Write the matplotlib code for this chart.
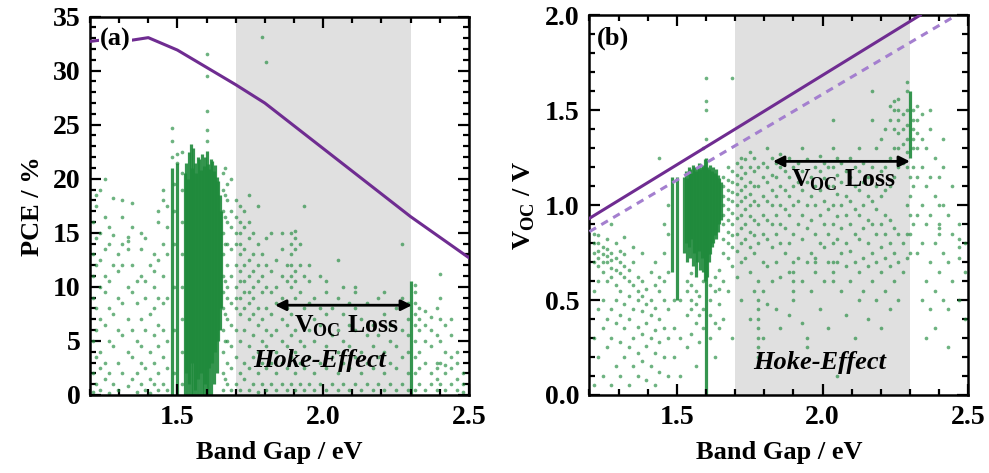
import numpy as np
import matplotlib
matplotlib.use("Agg")
import matplotlib.pyplot as plt

plt.rcParams["font.family"] = ["Liberation Serif", "DejaVu Serif"]
plt.rcParams["font.weight"] = "bold"
plt.rcParams["mathtext.fontset"] = "custom"
plt.rcParams["mathtext.rm"] = "Liberation Serif:bold"
plt.rcParams["mathtext.bf"] = "Liberation Serif:bold"

# ---------------- (a) PCE vs band gap ----------------
# scattered devices, grouped by reported band gap
pce_gap = [1.21, 1.22, 1.235, 1.25, 1.265, 1.28, 1.295, 1.31, 1.33, 1.345, 1.36, 1.375,
           1.39, 1.405, 1.42, 1.435, 1.45, 1.465, 1.48, 1.49, 1.50, 1.515, 1.60,
           1.655, 1.665, 1.67, 1.685, 1.70, 1.715, 1.73, 1.745, 1.76, 1.775, 1.79, 1.805,
           1.82, 1.84, 1.86, 1.875, 1.89, 1.905, 1.92, 1.935, 1.95, 1.97, 1.99,
           2.01, 2.03, 2.05, 2.07, 2.09, 2.11, 2.13, 2.15, 2.17, 2.19, 2.21, 2.23,
           2.25, 2.27, 2.29, 2.315, 2.33, 2.35, 2.37, 2.39, 2.40, 2.42, 2.44, 2.46, 2.48]
pce_vals = [
    [0.3, 2, 5, 9, 11, 13, 16],
    [1, 3.5, 6, 8, 12, 14.5, 17.5, 18.5],
    [0.5, 2.5, 4, 7, 10, 12.5, 15, 19],
    [1.5, 3, 6.5, 9.5, 11, 13.5, 16.5, 20],
    [0.2, 2, 5, 8, 10.5, 14, 15.5],
    [1, 4.5, 7.5, 12, 14.8, 18.2],
    [0.5, 3, 6, 9, 11.5, 13],
    [2, 5.5, 8.5, 12, 14, 16.5, 18],
    [0.8, 4, 7, 10, 13.5, 14.2, 14.6],
    [1.5, 3.5, 6, 9.5, 12, 15.5, 17.8],
    [0.3, 2, 5, 8.5, 10.5],
    [1, 3, 4.5, 7, 11, 13.5, 15],
    [0.5, 2.5, 6, 9, 10.5, 14.5],
    [0.2, 1.5, 4, 7.5, 12],
    [1, 3, 5.5, 8, 10, 11.5, 13],
    [0.5, 2, 4.5, 6.5, 9, 12.5, 16, 17],
    [1, 3.5, 6, 8.5, 11, 14, 18, 19],
    [0.5, 2.5, 5, 9, 13, 15.5, 17.5],
    [22, 23.5, 24.7],
    [2, 6, 10, 14, 17, 19.5],
    [21.5, 22.3],
    [1, 4, 7, 10, 13, 16, 19, 20.5, 22.5],
    [23.5, 24.5, 26.3, 29.5, 31.5],
    [0.5, 2, 4, 6, 8, 9.5, 11, 13, 15, 17, 19, 20.5],
    [1.5, 5, 7.5, 10.5, 14, 16.5, 18.5, 21],
    [1, 3, 5, 7, 9, 10, 12, 14, 16, 18, 19.5],
    [0.5, 2.5, 4.5, 6.5, 8.5, 11, 13.5, 15.5, 17, 20],
    [1, 3.5, 6, 8, 9, 10, 12, 14, 15, 16.5, 18],
    [0.5, 2, 5, 7.5, 9, 10.5, 11.5, 13, 14, 15, 16, 17.5],
    [1.5, 3, 6, 8, 9.5, 10.5, 12, 13.5, 15.5, 17],
    [0.5, 2.5, 4.5, 7, 8.5, 9.5, 11, 12.5, 14.5, 16, 18.5],
    [1, 3.5, 5.5, 7.5, 9, 10, 11.5, 13, 15],
    [0.3, 2, 4, 6.5, 8, 10.5, 12, 14, 17.5],
    [1, 3, 5, 7, 9.5, 11, 13, 33.1],
    [0.5, 2.5, 4.5, 6, 8, 10, 12, 14.5, 30.8],
    [1, 3, 5.5, 7.5, 9.5, 11.5, 15],
    [0.5, 2, 4, 6, 8.5, 10, 12.5],
    [1, 3, 5, 7, 9, 11, 13.5, 15],
    [0.5, 2.5, 4.5, 6.5, 8, 10.5, 12],
    [1, 3.5, 5.5, 7.5, 10, 11, 12, 13, 14, 15],
    [0.5, 2, 4, 6, 9, 10.5, 11.5, 13.5, 14.5, 15.2],
    [1, 3, 5, 7, 9.5, 12, 14],
    [0.5, 2.5, 4.5, 8, 11, 17.5],
    [1, 3.5, 6, 8.5, 10.5, 12],
    [0.5, 2, 5, 7, 9],
    [1, 3, 6.5, 8, 11],
    [0.5, 2.5, 4.5, 7.5, 9.5, 10.5],
    [1, 3.5, 5.5, 8],
    [0.5, 2, 4, 6, 9, 12.5],
    [1, 3, 5, 7.5, 10],
    [0.5, 2.5, 4.5, 6.5, 8.5],
    [1, 3.5, 6, 8, 9.5, 10],
    [0.5, 2, 4, 7],
    [1, 3, 5.5, 8.5],
    [0.5, 2.5, 4.5, 6.5],
    [1, 3.5, 5.5, 9],
    [0.5, 2, 4, 7.5, 9.5],
    [1, 3, 5, 6.5],
    [0.5, 2.5, 4.5, 8],
    [1, 3.5, 6, 9, 14],
    [0.5, 2, 4, 5.5, 7, 8.5],
    [0.5, 2, 3.5, 5, 6.5, 7.5, 8.5, 9.5, 10.2],
    [1, 2.5, 4, 6, 7, 8],
    [0.5, 3, 5, 6.5, 7.8],
    [1, 2, 4.5, 6, 7.2],
    [0.5, 1.5, 2.5, 3, 5.5, 8],
    [1, 3, 5, 7, 9, 11.2],
    [0.5, 2, 2.8, 4, 6.5],
    [1, 2.5, 3.5, 5.5, 7],
    [0.5, 1.5, 3, 4],
    [0.3, 1, 2],
]

# dense columns of overlapping devices: band gap, lowest and highest PCE
pce_streak_gap = [1.48, 1.50, 1.525, 1.53, 1.535, 1.54, 1.545, 1.55, 1.555, 1.56, 1.565,
                  1.57, 1.575, 1.58, 1.585, 1.59, 1.595, 1.60, 1.605, 1.61, 1.615, 1.62,
                  1.625, 1.63, 1.635, 1.64, 1.645, 1.65, 2.30]
pce_streak_lo = [0, 0, 0, 2, 0, 1, 0, 3, 0, 0.5, 0, 1.5, 0, 2, 0, 0, 1, 0, 0, 2.5, 0, 3,
                 1, 4, 2, 5, 6, 8, 0]
pce_streak_hi = [21, 21.5, 20.5, 21.5, 20, 22.5, 23.2, 21, 22.8, 21.5, 20.5, 22, 21.8,
                 20.8, 22.3, 21.2, 22, 22.6, 21.4, 20.9, 21.8, 21.6, 20.7, 21.3, 20.2,
                 19.8, 18.5, 17, 10.5]

# detailed-balance efficiency limit
sq_gap = [1.20, 1.23, 1.34, 1.40, 1.50, 1.70, 1.80, 2.30, 2.50]
sq_pce = [32.7, 32.8, 32.8, 33.05, 31.9, 28.7, 27.0, 16.5, 12.7]

# ---------------- (b) Voc vs band gap ----------------
voc_gap = [1.215, 1.23, 1.245, 1.26, 1.275, 1.29, 1.305, 1.32, 1.335, 1.35, 1.365, 1.38,
           1.395, 1.41, 1.425, 1.44, 1.455, 1.47, 1.49, 1.51, 1.535, 1.55, 1.565, 1.575,
           1.59, 1.60, 1.615, 1.63, 1.645, 1.66, 1.675, 1.69, 1.705, 1.72, 1.735, 1.75,
           1.765, 1.78, 1.795, 1.81, 1.825, 1.84, 1.855, 1.87, 1.885, 1.90, 1.915, 1.93,
           1.945, 1.96, 1.975, 1.99, 2.005, 2.02, 2.035, 2.05, 2.065, 2.08, 2.095, 2.11,
           2.125, 2.14, 2.155, 2.17, 2.185, 2.20, 2.215, 2.23, 2.245, 2.26, 2.275, 2.29,
           2.30, 2.31, 2.325, 2.34, 2.355, 2.37, 2.385, 2.40, 2.415, 2.43, 2.445, 2.47, 2.49]
voc_vals = [
    [0.05, 0.3, 0.55, 0.7, 0.75, 0.8, 0.85],
    [0.2, 0.45, 0.6, 0.68, 0.72, 0.76, 0.8, 0.84],
    [0.1, 0.35, 0.5, 0.65, 0.7, 0.74, 0.78],
    [0.25, 0.4, 0.6, 0.7, 0.73, 0.77, 0.82],
    [0.05, 0.3, 0.45, 0.62, 0.67, 0.71, 0.75, 0.9],
    [0.15, 0.38, 0.5, 0.58, 0.66, 0.72, 0.8],
    [0.1, 0.28, 0.42, 0.55, 0.64, 0.7, 0.76],
    [0.2, 0.35, 0.48, 0.62, 0.68, 0.74, 0.83],
    [0.05, 0.25, 0.4, 0.52, 0.6, 0.66],
    [0.15, 0.3, 0.45, 0.58, 0.7, 0.78],
    [0.1, 0.22, 0.36, 0.5, 0.55, 0.62],
    [0.18, 0.32, 0.44, 0.52, 0.6, 0.75],
    [0.08, 0.26, 0.38, 0.48, 0.56],
    [0.15, 0.3, 0.42, 0.5, 0.65],
    [0.05, 0.22, 0.34, 0.46, 0.58, 0.7],
    [0.12, 0.28, 0.4, 0.55, 0.62, 1.25],
    [0.2, 0.35, 0.5, 0.6, 0.75, 0.9],
    [0.1, 0.3, 0.45, 0.65, 0.85, 1.0],
    [0.2, 0.35, 0.5],
    [0.1, 0.3, 0.5],
    [0.25, 0.42, 0.55, 0.6],
    [0.32, 0.45, 0.5, 0.58, 0.64],
    [0.15, 0.38, 0.48, 0.55],
    [0.28, 0.42, 0.52],
    [0.35, 0.45, 0.6, 1.3],
    [1.35, 1.5, 1.55, 1.67],
    [0.3, 0.42, 0.5, 0.58],
    [0.2, 0.38, 0.55, 0.62],
    [0.35, 0.48, 0.56, 0.66],
    [0.4, 0.6, 0.75, 0.82, 0.9, 0.95, 1.0, 1.05, 1.1, 1.15],
    [0.55, 0.72, 0.8, 0.86, 0.92, 0.98, 1.03, 1.08, 1.13, 1.2],
    [0.3, 0.68, 0.78, 0.84, 0.9, 0.96, 1.02, 1.07, 1.12, 1.18, 1.67],
    [0.62, 0.76, 0.85, 0.93, 1.0, 1.06, 1.11, 1.16, 1.22],
    [0.5, 0.7, 0.8, 0.88, 0.95, 1.02, 1.08, 1.14, 1.2, 1.25],
    [0.72, 0.82, 0.9, 0.98, 1.04, 1.1, 1.17, 1.24],
    [0.4, 0.65, 0.78, 0.86, 0.94, 1.0, 1.06, 1.12, 1.2, 1.28],
    [0.55, 0.75, 0.84, 0.92, 1.02, 1.1, 1.18, 1.25],
    [0.2, 0.25, 0.3, 0.35, 0.4, 0.45, 0.5, 0.6, 0.8, 0.9, 1.0, 1.1, 1.2],
    [0.3, 0.55, 0.7, 0.85, 0.95, 1.05, 1.15, 1.22],
    [0.48, 0.68, 0.82, 0.92, 1.02, 1.12, 1.2, 1.3],
    [0.6, 0.78, 0.9, 1.0, 1.08, 1.16, 1.25],
    [0.45, 0.7, 0.85, 0.95, 1.05, 1.15, 1.22],
    [0.35, 0.62, 0.8, 0.9, 1.0, 1.1, 1.2, 1.27],
    [0.75, 0.88, 0.98, 1.08, 1.18],
    [0.42, 0.65, 0.8, 0.95, 1.05, 1.15, 1.25],
    [0.5, 0.55, 0.6, 0.65, 0.7, 0.85, 1.0, 1.1, 1.2],
    [0.72, 0.9, 1.02, 1.12, 1.22],
    [0.38, 0.6, 0.82, 0.95, 1.08, 1.18, 1.3],
    [0.25, 0.3, 0.7, 0.88, 1.0, 1.12, 1.24],
    [0.55, 0.75, 0.92, 1.05, 1.15],
    [0.65, 0.7, 0.72, 0.85, 1.0, 1.1, 1.2],
    [0.45, 0.8, 0.95, 1.08, 1.18, 1.26],
    [0.6, 0.78, 0.9, 1.02, 1.14, 1.22],
    [0.35, 0.7, 0.85, 0.98, 1.1, 1.2],
    [0.6, 0.65, 0.7, 0.8, 0.9, 1.0, 1.1, 1.2, 1.3, 1.45],
    [0.1, 0.7, 0.82, 0.94, 1.06, 1.16, 1.25],
    [0.55, 0.75, 0.88, 1.0, 1.12, 1.22],
    [0.42, 0.68, 0.8, 0.95, 1.05, 1.18],
    [0.6, 0.76, 0.9, 1.02, 1.15, 1.25],
    [0.3, 0.7, 0.85, 0.98, 1.1, 1.2],
    [0.5, 0.65, 0.82, 0.95, 1.08, 1.18, 1.3],
    [0.55, 0.72, 0.88, 1.0, 1.12, 1.22],
    [0.4, 0.68, 0.8, 0.92, 1.05, 1.15],
    [0.6, 0.75, 0.9, 1.02, 1.2, 1.45, 1.6],
    [0.5, 0.7, 0.85, 0.98, 1.1, 1.3],
    [0.35, 0.65, 0.78, 0.9, 1.05, 1.18, 1.35],
    [0.55, 0.72, 0.85, 0.95, 1.08, 1.2, 1.4],
    [0.45, 0.68, 0.8, 0.92, 1.1, 1.25, 1.45, 1.52],
    [0.6, 0.75, 0.88, 1.15, 1.3, 1.4, 1.5, 1.55],
    [0.5, 0.7, 0.85, 1.2, 1.3, 1.38, 1.45, 1.5, 1.56],
    [0.65, 0.8, 1.22, 1.32, 1.4, 1.48],
    [0.72, 0.85, 1.0, 1.2, 1.28, 1.35, 1.42, 1.5, 1.6, 1.65],
    [0.75, 0.85, 0.95, 1.05, 1.15],
    [0.9, 1.1, 1.2, 1.3, 1.35, 1.4, 1.45, 1.5],
    [0.75, 0.95, 1.15, 1.3, 1.38, 1.45, 1.52],
    [0.5, 0.8, 1.0, 1.2, 1.35, 1.48],
    [0.3, 0.6, 0.9, 1.1, 1.3],
    [0.45, 0.7, 0.95, 1.15, 1.4, 1.5],
    [0.35, 0.55, 0.8, 1.05, 1.25],
    [0.65, 0.85, 0.88, 0.9, 1.0, 1.15],
    [0.5, 0.75, 1.0, 1.2, 1.35],
    [0.25, 0.45, 0.7, 0.95],
    [0.6, 0.85, 1.1],
    [0.5, 0.72, 0.78, 0.82, 0.9],
    [0.4, 0.65, 0.8],
]

voc_streak_gap = [1.485, 1.50, 1.525, 1.53, 1.535, 1.54, 1.545, 1.55, 1.555, 1.56, 1.565,
                  1.57, 1.575, 1.58, 1.585, 1.59, 1.595, 1.60, 1.605, 1.61, 1.615, 1.62,
                  1.625, 1.63, 1.635, 1.64, 1.645, 1.65, 2.30]
voc_streak_lo = [0.65, 0.5, 0.75, 0.8, 0.7, 0.78, 0.72, 0.82, 0.68, 0.75, 0.62, 0.7,
                 0.76, 0.66, 0.72, 0.65, 0.6, 0.0, 0.62, 0.7, 0.74, 0.78, 0.8, 0.84,
                 0.82, 0.86, 0.9, 0.92, 1.25]
voc_streak_hi = [1.15, 1.15, 1.15, 1.18, 1.14, 1.2, 1.19, 1.17, 1.21, 1.2, 1.18, 1.2,
                 1.22, 1.19, 1.2, 1.21, 1.24, 1.25, 1.2, 1.19, 1.21, 1.18, 1.2, 1.17,
                 1.19, 1.16, 1.14, 1.12, 1.6]

# radiative Voc limit (solid) and limit with realistic EQE (dashed)
sq_voc_gap = [1.2, 1.7, 2.335]
sq_voc = [0.93, 1.40, 2.0]
rad_voc_gap = [1.2, 2.46]
rad_voc = [0.86, 2.0]

GREEN = "#1f8a3c"
PURPLE = "#6f2c91"
LIGHT_PURPLE = "#a47fcf"
GREY = "#e0e0e0"


def flatten(gaps, vals):
    x = np.repeat(gaps, [len(v) for v in vals])
    y = np.concatenate([np.asarray(v, float) for v in vals])
    return x, y


def style_axes(ax, ymax, ymajor, yminor, ylabel):
    ax.set_xlim(1.2, 2.5)
    ax.set_ylim(0, ymax)
    ax.set_xticks([1.5, 2.0, 2.5])
    ax.set_xticks(np.arange(1.2, 2.51, 0.1), minor=True)
    ax.set_yticks(np.arange(0, ymax + 1e-9, ymajor))
    ax.set_yticks(np.arange(0, ymax + 1e-9, yminor), minor=True)
    ax.tick_params(which="both", direction="in", top=True, right=True,
                   width=1.6, labelsize=20, pad=7)
    ax.tick_params(which="major", length=8)
    ax.tick_params(which="minor", length=4.5)
    for s in ax.spines.values():
        s.set_linewidth(1.8)
    ax.set_xlabel("Band Gap / eV", fontsize=19, fontweight="bold", labelpad=8)
    ax.set_ylabel(ylabel, fontsize=19, fontweight="bold", labelpad=6)


fig = plt.figure(figsize=(9.89, 4.73), dpi=100)
ax1 = fig.add_axes([0.091, 0.165, 0.383, 0.800])
ax2 = fig.add_axes([0.596, 0.165, 0.383, 0.803])

# (a)
ax1.axvspan(1.7, 2.3, color=GREY, lw=0, zorder=0)
ax1.vlines(pce_streak_gap, pce_streak_lo, pce_streak_hi, color=GREEN, lw=2.3, alpha=0.9, zorder=1)
x, y = flatten(pce_gap, pce_vals)
ax1.scatter(x, y, s=7, color=GREEN, alpha=0.65, lw=0, zorder=2)
ax1.plot(sq_gap, sq_pce, color=PURPLE, lw=2.2, zorder=3)
style_axes(ax1, 35, 5, 1, "PCE / %")
ax1.yaxis.set_major_formatter(plt.FormatStrFormatter("%d"))
ax1.xaxis.set_major_formatter(plt.FormatStrFormatter("%.1f"))
ax1.text(1.235, 32.9, "(a)", fontsize=19, fontweight="bold", va="center", zorder=4,
         bbox=dict(facecolor="white", edgecolor="none", pad=0.5))
ax1.annotate("", xy=(2.305, 8.3), xytext=(1.835, 8.3), zorder=5,
             arrowprops=dict(arrowstyle="<|-|>", color="black", lw=2, mutation_scale=16,
                             shrinkA=0, shrinkB=0))
ax1.text(2.08, 6.4, r"V$_{\rm OC}$ Loss", fontsize=18.5, fontweight="bold",
         ha="center", va="center", zorder=5)
ax1.text(1.99, 3.2, "Hoke-Effect", fontsize=19, fontweight="bold", style="italic",
         ha="center", va="center", zorder=5)

# (b)
ax2.axvspan(1.7, 2.3, color=GREY, lw=0, zorder=0)
ax2.vlines(voc_streak_gap, voc_streak_lo, voc_streak_hi, color=GREEN, lw=2.3, alpha=0.9, zorder=1)
x, y = flatten(voc_gap, voc_vals)
ax2.scatter(x, y, s=7, color=GREEN, alpha=0.65, lw=0, zorder=2)
ax2.plot(sq_voc_gap, sq_voc, color=PURPLE, lw=2.2, zorder=3)
ax2.plot(rad_voc_gap, rad_voc, color=LIGHT_PURPLE, lw=2.2, ls=(0, (2.5, 2)), zorder=3)
style_axes(ax2, 2.0, 0.5, 0.1, r"V$_{\rm OC}$ / V")
ax2.yaxis.set_major_formatter(plt.FormatStrFormatter("%.1f"))
ax2.xaxis.set_major_formatter(plt.FormatStrFormatter("%.1f"))
ax2.text(1.225, 1.88, "(b)", fontsize=19, fontweight="bold", va="center", zorder=4)
ax2.annotate("", xy=(2.3, 1.23), xytext=(1.83, 1.23), zorder=5,
             arrowprops=dict(arrowstyle="<|-|>", color="black", lw=2, mutation_scale=16,
                             shrinkA=0, shrinkB=0))
ax2.text(2.07, 1.13, r"V$_{\rm OC}$ Loss", fontsize=18.5, fontweight="bold",
         ha="center", va="center", zorder=5)
ax2.text(1.99, 0.17, "Hoke-Effect", fontsize=19, fontweight="bold", style="italic",
         ha="center", va="center", zorder=5)

fig.savefig("out.png", dpi=100)
